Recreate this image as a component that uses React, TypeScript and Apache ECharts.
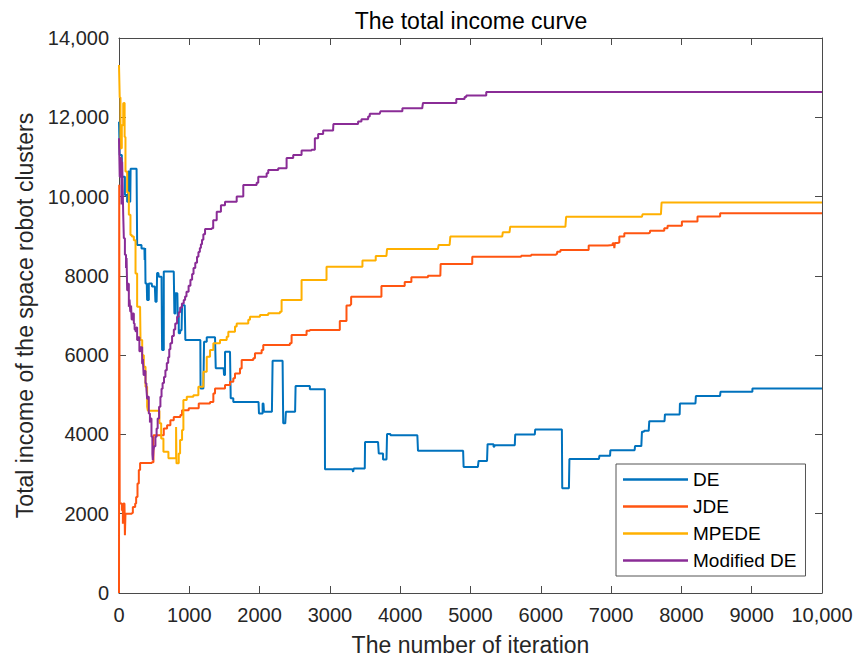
import React, { useEffect, useRef } from 'react';
import * as echarts from 'echarts';

const seriesNames = ['DE', 'JDE', 'MPEDE', 'Modified DE'];
const seriesColors = ['#0072BD', '#FF5511', '#FFB000', '#8A2C96'];

const xTickLabels = ['0', '1000', '2000', '3000', '4000', '5000', '6000', '7000', '8000', '9000', '10,000'];
const yTickLabels = ['0', '2000', '4000', '6000', '8000', '10,000', '12,000', '14,000'];

const deData: [number, number][] = [
  [0, 11890], [10, 11050], [40, 10500], [84, 10040], [116, 9870], [130, 10630], [145, 10630], [149, 9870],
  [160, 9870], [165, 10700], [250, 10700], [258, 8780], [306, 8780], [320, 8690], [362, 8690], [365, 8400],
  [372, 8700], [377, 7810], [395, 7810], [400, 7390], [410, 7390], [424, 7810], [465, 7810], [471, 7730],
  [510, 7730], [518, 7350], [535, 7350], [542, 8070], [560, 8070], [566, 7980], [605, 7980], [613, 6130],
  [625, 6130], [637, 8110], [779, 8110], [788, 7050], [795, 7050], [802, 7560], [830, 7560], [836, 6970],
  [850, 6550], [868, 6550], [873, 6630], [890, 6630], [897, 7260], [935, 7260], [944, 6380], [1157, 6380],
  [1160, 5160], [1200, 5160], [1210, 6340], [1248, 6450], [1366, 6450], [1376, 5670], [1489, 5670],
  [1494, 5500], [1500, 5500], [1508, 6085], [1579, 6085], [1589, 4910], [1626, 4820], [1985, 4820],
  [1991, 4530], [2029, 4530], [2043, 4780], [2055, 4780], [2062, 4570], [2175, 4570], [2185, 5860],
  [2327, 5860], [2336, 4280], [2365, 4280], [2374, 4570], [2505, 4570], [2512, 5220], [2691, 5220],
  [2715, 5140], [2928, 5140], [2930, 3120], [3320, 3120], [3330, 3055], [3340, 3140], [3496, 3140],
  [3500, 3810], [3685, 3810], [3695, 3520], [3745, 3520], [3756, 3370], [3805, 3370], [3813, 4010],
  [3850, 4010], [3861, 3980], [4244, 3980], [4253, 3590], [4895, 3590], [4902, 3180], [5105, 3180],
  [5115, 3330], [5235, 3330], [5243, 3755], [5309, 3755], [5328, 3690], [5340, 3730], [5630, 3730],
  [5636, 4000], [5915, 4000], [5920, 4125], [6300, 4125], [6305, 2640], [6400, 2640], [6407, 3380],
  [6828, 3380], [6833, 3460], [6985, 3460], [6990, 3600], [7335, 3600], [7340, 3705], [7430, 3705],
  [7439, 4070], [7465, 4070], [7472, 4090], [7535, 4090], [7543, 4335], [7760, 4335], [7766, 4505],
  [7975, 4505], [7979, 4780], [8200, 4780], [8206, 4970], [8550, 4970], [8556, 5075], [8990, 5075],
  [9010, 5160], [10000, 5160],
];

const jdeData: [number, number][] = [
  [0, 0], [3, 10300], [10, 2260], [25, 2260], [41, 2090], [55, 1750], [65, 2260], [78, 2260], [84, 1460],
  [92, 2000], [183, 2020], [197, 2170], [230, 2260], [244, 2420], [263, 2760], [282, 3100], [300, 3280],
  [467, 3300], [490, 3980], [613, 3980], [637, 4150], [684, 4230], [731, 4360], [779, 4440], [873, 4490],
  [897, 4610], [992, 4660], [1134, 4780], [1295, 4820], [1342, 5035], [1366, 5160], [1484, 5160],
  [1508, 5245], [1579, 5330], [1626, 5415], [1650, 5540], [1721, 5665], [1745, 5875], [1910, 5920],
  [1934, 6045], [2029, 6130], [2052, 6255], [2431, 6300], [2455, 6505], [2644, 6505], [2668, 6615],
  [2715, 6635], [3117, 6635], [3141, 6860], [3220, 6860], [3236, 7250], [3290, 7280], [3302, 7470],
  [3685, 7470], [3733, 7745], [4050, 7745], [4064, 7845], [4159, 7965], [4395, 8005], [4571, 8005],
  [4575, 8300], [5011, 8300], [5025, 8485], [5697, 8485], [5721, 8510], [5863, 8530], [6218, 8550],
  [6232, 8610], [6279, 8655], [6667, 8655], [6681, 8765], [6951, 8780], [7022, 8820], [7040, 8820],
  [7046, 8700], [7055, 8830], [7093, 8840], [7117, 8990], [7188, 9075], [7534, 9090], [7553, 9135],
  [7732, 9135], [7756, 9200], [7803, 9265], [7993, 9265], [8007, 9370], [8206, 9370], [8229, 9495],
  [8537, 9495], [8551, 9580], [10000, 9580],
];

const mpedeData: [number, number][] = [
  [0, 13320], [10, 12500], [21, 11220], [40, 11800], [60, 12350], [69, 12360], [80, 11500], [92, 10630],
  [116, 10100], [140, 9540], [163, 9030], [183, 8990], [211, 8900], [235, 8060], [258, 7220], [300, 7200],
  [306, 6380], [330, 6000], [353, 5710], [377, 5200], [400, 4700], [410, 4600], [560, 4600], [575, 4280],
  [600, 3900], [632, 3560], [703, 3400], [798, 3400], [812, 4190], [818, 3270], [835, 3270], [850, 3520],
  [869, 3860], [897, 4110], [916, 4870], [964, 4950], [1058, 4990], [1129, 5200], [1200, 5580],
  [1248, 5960], [1295, 6130], [1342, 6300], [1437, 6380], [1532, 6465], [1555, 6590], [1650, 6720],
  [1674, 6800], [1839, 6890], [1863, 6970], [2005, 7010], [2123, 7055], [2289, 7095], [2313, 7390],
  [2573, 7390], [2597, 7895], [2928, 7895], [2952, 8232], [3449, 8232], [3463, 8385], [3638, 8385],
  [3652, 8500], [3804, 8500], [3813, 8680], [4537, 8680], [4547, 8780], [4703, 8780], [4713, 8990],
  [5451, 8990], [5460, 9100], [5555, 9100], [5565, 9240], [6350, 9240], [6360, 9490], [7439, 9490],
  [7448, 9555], [7709, 9555], [7718, 9850], [10000, 9850],
];

const modifiedDeData: [number, number][] = [
  [0, 11470], [10, 10500], [21, 10970], [35, 9800], [45, 10880], [55, 10000], [60, 9540], [69, 8950],
  [84, 8530], [100, 8200], [108, 8450], [116, 7640], [128, 7800], [140, 7220], [150, 7400], [160, 7100],
  [172, 7250], [180, 6900], [195, 7050], [211, 6800], [222, 6650], [235, 6600], [246, 6700], [258, 6380],
  [270, 6450], [290, 6100], [305, 6200], [329, 5790], [340, 5900], [350, 5500], [362, 5600], [377, 5290],
  [390, 5150], [400, 4900], [412, 4950], [424, 4530], [440, 4300], [450, 4400], [462, 3940], [475, 3500],
  [481, 3350], [490, 3600], [500, 3700], [518, 3940], [535, 4150], [550, 4400], [570, 4700], [589, 4950],
  [605, 5150], [620, 5300], [640, 5450], [660, 5620], [680, 5800], [700, 5950], [715, 6150], [731, 6300],
  [755, 6480], [780, 6650], [800, 6800], [826, 6970], [850, 7080], [870, 7200], [895, 7300], [921, 7390],
  [940, 7480], [960, 7600], [990, 7750], [1016, 7900], [1040, 8050], [1060, 8200], [1085, 8330],
  [1110, 8480], [1130, 8600], [1150, 8700], [1165, 8800], [1181, 8910], [1200, 9050], [1224, 9180],
  [1319, 9200], [1340, 9400], [1390, 9620], [1450, 9780], [1508, 9870], [1674, 10000], [1768, 10295],
  [1958, 10350], [1981, 10500], [2100, 10590], [2123, 10670], [2265, 10715], [2384, 10970],
  [2478, 11050], [2597, 11160], [2739, 11180], [2786, 11470], [2833, 11580], [2904, 11665],
  [3046, 11700], [3050, 11830], [3378, 11830], [3401, 11895], [3449, 11950], [3544, 12020],
  [3567, 12090], [3709, 12090], [3719, 12150], [4017, 12150], [4031, 12230], [4315, 12255],
  [4324, 12360], [4774, 12360], [4798, 12460], [4916, 12510], [4940, 12550], [5212, 12550],
  [5224, 12640], [10000, 12640],
];

const allData = [deData, jdeData, mpedeData, modifiedDeData];

const FONT = '"Liberation Sans", Arial, Helvetica, sans-serif';
const AXIS_COLOR = '#4a4a4a';
const TEXT_COLOR = '#262626';

export default function App() {
  const ref = useRef<HTMLDivElement>(null);

  useEffect(() => {
    if (!ref.current) return;
    const chart = echarts.init(ref.current, undefined, { renderer: 'svg' });

    const axisCommon = {
      axisLine: { show: true, onZero: false, lineStyle: { color: AXIS_COLOR, width: 1 } },
      axisTick: { show: true, inside: true, length: 7, lineStyle: { color: AXIS_COLOR, width: 1 } },
      splitLine: { show: false },
    };

    chart.setOption({
      animation: false,
      backgroundColor: '#ffffff',
      title: {
        text: 'The total income curve',
        left: 471,
        top: 9,
        padding: 0,
        textAlign: 'center',
        textStyle: { fontSize: 23, fontWeight: 'normal', color: '#000000', fontFamily: FONT },
      },
      grid: { left: 119, right: 37, top: 38, bottom: 71, containLabel: false },
      legend: {
        orient: 'vertical',
        left: 616,
        top: 464,
        padding: [6, 9, 6, 7],
        icon: 'rect',
        itemWidth: 65,
        itemHeight: 2.5,
        itemGap: 8,
        backgroundColor: '#ffffff',
        borderColor: '#555555',
        borderWidth: 1,
        textStyle: { fontSize: 19, lineHeight: 19, color: '#000000', fontFamily: FONT },
        data: seriesNames.map((name, i) => ({ name, itemStyle: { color: seriesColors[i] } })),
      },
      xAxis: [
        {
          type: 'value',
          position: 'bottom',
          min: 0,
          max: 10000,
          interval: 1000,
          ...axisCommon,
          axisLabel: {
            fontSize: 20,
            color: TEXT_COLOR,
            fontFamily: FONT,
            margin: 12,
            formatter: (v: number) => xTickLabels[Math.round(v / 1000)] ?? String(v),
          },
          name: 'The number of iteration',
          nameLocation: 'middle',
          nameGap: 40,
          nameTextStyle: { fontSize: 23, color: TEXT_COLOR, fontFamily: FONT },
        },
        {
          type: 'value',
          position: 'top',
          min: 0,
          max: 10000,
          interval: 1000,
          ...axisCommon,
          axisLabel: { show: false },
        },
      ],
      yAxis: [
        {
          type: 'value',
          position: 'left',
          min: 0,
          max: 14000,
          interval: 2000,
          ...axisCommon,
          axisLabel: {
            fontSize: 20,
            color: TEXT_COLOR,
            fontFamily: FONT,
            margin: 10,
            formatter: (v: number) => yTickLabels[Math.round(v / 2000)] ?? String(v),
          },
          name: 'Total income of the space robot clusters',
          nameLocation: 'middle',
          nameGap: 79,
          nameTextStyle: { fontSize: 23, color: TEXT_COLOR, fontFamily: FONT },
        },
        {
          type: 'value',
          position: 'right',
          min: 0,
          max: 14000,
          interval: 2000,
          ...axisCommon,
          axisLabel: { show: false },
        },
      ],
      series: seriesNames.map((name, i) => ({
        name,
        type: 'line',
        step: 'end',
        xAxisIndex: 0,
        yAxisIndex: 0,
        data: allData[i],
        symbol: 'none',
        showSymbol: false,
        color: seriesColors[i],
        lineStyle: { width: 2, color: seriesColors[i] },
        emphasis: { disabled: true },
      })),
    });

    return () => {
      chart.dispose();
    };
  }, []);

  return (
    <div
      ref={ref}
      style={{ position: 'fixed', left: 0, top: 0, width: 859, height: 664, background: '#fff' }}
    />
  );
}
